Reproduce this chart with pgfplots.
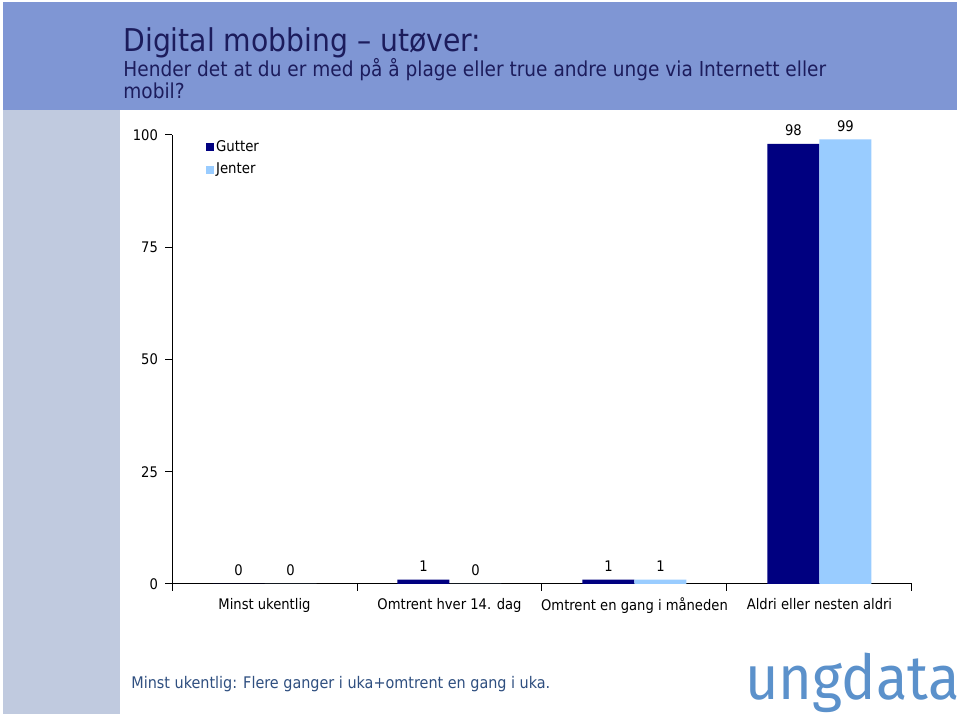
\documentclass[border=0pt]{standalone}
\usepackage{pgfplots}
\pgfplotsset{compat=1.18}
\usepackage{fontspec}
\setmainfont{DejaVu Sans Condensed}
\definecolor{hdr}{RGB}{127,150,212}
\definecolor{strip}{RGB}{192,202,223}
\definecolor{ttl}{RGB}{28,28,92}
\definecolor{gut}{RGB}{0,0,128}
\definecolor{jen}{RGB}{153,204,255}
\definecolor{foot}{RGB}{47,79,128}
\definecolor{logo}{RGB}{91,145,203}
\begin{document}
\begin{tikzpicture}
\begin{scope}[x=0.5pt,y=-0.5pt]
\useasboundingbox (0,0) rectangle (960,716);
\fill[white] (0,0) rectangle (960,716);
\fill[hdr] (3,2) rectangle (957,110);
\fill[strip] (3,110) rectangle (120,714);
\node[anchor=base west, inner sep=0, text=ttl, font=\fontsize{15.7}{19}\selectfont] at (123,52) {Digital mobbing – utøver:};
\node[anchor=base west, inner sep=0, text=ttl, font=\fontsize{10.3}{12}\selectfont] at (123,77) {Hender det at du er med på å plage eller true andre unge via Internett eller};
\node[anchor=base west, inner sep=0, text=ttl, font=\fontsize{10.3}{12}\selectfont] at (123,99) {mobil?};
\node[anchor=base west, inner sep=0, text=foot, font=\fontsize{8}{10}\selectfont] at (131,689) {Minst ukentlig: Flere ganger i uka+omtrent en gang i uka.};
\node[anchor=base west, inner sep=0, text=logo, font=\fontspec{Fira Sans}\fontsize{31}{33}\selectfont, xscale=0.93] at (745,700) {ungdata};
\end{scope}
\begin{axis}[
  at={(86pt,-292pt)}, anchor=south west,
  scale only axis, width=370pt, height=224.5pt,
  ybar=0pt, bar width=26pt,
  ymin=0, ymax=100, xmin=-0.5, xmax=3.5,
  axis x line*=bottom, axis y line*=left,
  axis line style={-, black, line width=0.5pt},
  ytick={0,25,50,75,100},
  xtick={-0.5,0.5,1.5,2.5,3.5},
  xticklabels={,,,,},
  extra x ticks={0,1,2,3},
  extra x tick labels={Minst ukentlig, Omtrent hver 14. dag, Omtrent en gang i måneden, Aldri eller nesten aldri},
  extra x tick style={tick style={draw=none}},
  major tick length=3.5pt,
  tick align=outside,
  tick style={black, line width=0.5pt},
  ticklabel style={font=\fontsize{7.3}{9}\selectfont, text=black},
  /pgf/number format/assume math mode=true,
  xticklabel style={yshift=0pt},
  nodes near coords,
  every node near coord/.append style={font=\fontsize{7.3}{9}\selectfont, text=black, anchor=south, yshift=0.5pt},
  legend style={at={(0.045,0.995)}, anchor=north west, draw=none, fill=none,
    font=\fontsize{7.4}{9}\selectfont, row sep=2pt, inner sep=0pt, nodes={inner sep=1.2pt}},
  legend cell align=left,
  legend image code/.code={\fill[#1, draw=none] (0pt,-2pt) rectangle (4pt,2pt);},
]
\addplot[fill=gut, draw=none] coordinates {(0,0) (1,1) (2,1) (3,98)};
\addplot[fill=jen, draw=none] coordinates {(0,0) (1,0) (2,1) (3,99)};
\legend{Gutter, Jenter}
\end{axis}
\end{tikzpicture}
\end{document}
